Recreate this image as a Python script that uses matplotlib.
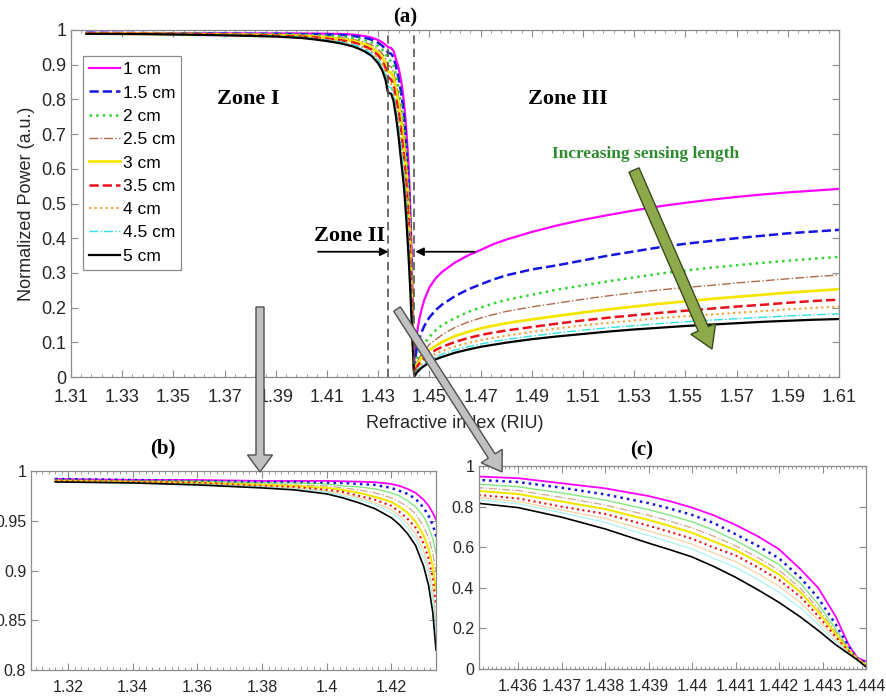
import numpy as np
import matplotlib
matplotlib.use('Agg')
import matplotlib.pyplot as plt
from matplotlib.patches import FancyArrow
from matplotlib.ticker import MultipleLocator, AutoMinorLocator, FuncFormatter

# refractive index grid (RIU): zone I, zone II (panel c), zone III
ri_zone1 = [1.316, 1.34, 1.36, 1.38, 1.39, 1.40, 1.405, 1.41, 1.415, 1.42, 1.4225, 1.425,
            1.4275, 1.43, 1.4315, 1.4328, 1.4338]
ri_zone2 = [1.4351, 1.436, 1.437, 1.438, 1.439, 1.4395, 1.44, 1.4405, 1.441, 1.4415, 1.442,
            1.4425, 1.4429, 1.4433, 1.4436, 1.4438, 1.444]
ri_zone3 = [1.4443, 1.4447, 1.445, 1.446, 1.447, 1.448, 1.45, 1.4525, 1.455, 1.46, 1.465, 1.47,
            1.475, 1.48, 1.49, 1.50, 1.51, 1.52, 1.53, 1.54, 1.55, 1.56, 1.57, 1.58, 1.59, 1.60, 1.61]
ri = ri_zone1 + ri_zone2 + ri_zone3

# normalized power for each sensing length (same order as ri)
p_1cm = [.992, .991, .991, .990, .990, .990, .9897, .9893, .9887, .987, .985, .982, .978, .971, .965, .958, .951,
         .948, .940, .915, .890, .852, .826, .795, .757, .710, .655, .590, .490, .400, .260, .120, .055, .038,
         .06, .10, .12, .165, .197, .222, .258, .285, .303, .330, .350, .366, .383, .396, .418, .437, .453,
         .467, .480, .492, .502, .511, .519, .526, .532, .537, .542]
p_15cm = [.992, .991, .990, .989, .989, .988, .988, .987, .986, .983, .980, .977, .972, .963, .955, .946, .935,
          .931, .921, .893, .860, .817, .790, .759, .719, .664, .608, .545, .448, .350, .221, .110, .053, .028,
          .035, .065, .08, .11, .13, .147, .172, .193, .209, .233, .252, .267, .281, .293, .310, .322, .336,
          .350, .362, .374, .384, .392, .400, .407, .414, .419, .424]
p_2cm = [.991, .990, .990, .988, .988, .987, .985, .984, .982, .978, .975, .970, .964, .954, .944, .932, .917,
         .910, .898, .867, .832, .785, .757, .725, .684, .633, .576, .514, .420, .320, .198, .100, .052, .024,
         .02, .04, .05, .07, .085, .097, .115, .135, .150, .170, .187, .200, .212, .222, .237, .252, .264,
         .276, .287, .298, .307, .315, .322, .329, .335, .341, .346]
p_25cm = [.991, .990, .989, .987, .986, .985, .983, .981, .978, .973, .969, .964, .957, .944, .933, .918, .899,
          .893, .879, .845, .808, .757, .728, .695, .654, .607, .550, .487, .396, .299, .184, .095, .051, .021,
          .015, .03, .038, .055, .067, .077, .094, .108, .122, .143, .158, .170, .180, .189, .202, .213, .224,
          .234, .243, .251, .258, .264, .271, .277, .283, .289, .294]
p_3cm = [.990, .989, .988, .986, .985, .983, .981, .978, .974, .969, .964, .958, .949, .935, .922, .904, .880,
         .877, .862, .825, .788, .734, .704, .671, .628, .586, .529, .466, .377, .282, .173, .092, .050, .019,
         .012, .025, .032, .045, .055, .064, .078, .090, .101, .118, .130, .140, .148, .155, .166, .176, .186,
         .195, .203, .211, .218, .225, .231, .237, .243, .248, .253]
p_35cm = [.990, .989, .988, .985, .984, .981, .979, .975, .971, .965, .959, .952, .943, .927, .912, .892, .865,
          .857, .840, .800, .764, .706, .675, .642, .598, .560, .502, .439, .354, .261, .159, .088, .049, .017,
          .01, .02, .027, .038, .047, .054, .066, .078, .087, .101, .112, .121, .128, .134, .144, .154, .163,
          .171, .178, .185, .191, .197, .203, .208, .214, .219, .223]
p_4cm = [.990, .989, .987, .985, .983, .980, .977, .973, .968, .961, .955, .947, .937, .919, .903, .881, .850,
         .844, .825, .783, .742, .680, .649, .615, .571, .529, .471, .408, .326, .240, .147, .084, .048, .015,
         .008, .016, .022, .032, .040, .046, .057, .067, .075, .088, .098, .106, .113, .119, .130, .140, .149,
         .156, .163, .170, .175, .180, .185, .190, .195, .199, .203]
p_45cm = [.989, .988, .987, .984, .982, .979, .975, .971, .966, .958, .952, .943, .932, .913, .896, .872, .838,
          .833, .814, .770, .722, .657, .625, .591, .545, .501, .442, .378, .300, .219, .135, .080, .047, .013,
          .006, .012, .017, .026, .033, .039, .049, .058, .066, .078, .087, .095, .102, .108, .118, .127, .135,
          .142, .148, .154, .159, .164, .168, .172, .176, .179, .182]
p_5cm = [.989, .988, .986, .983, .981, .977, .973, .968, .962, .953, .946, .937, .925, .904, .885, .858, .820,
         .816, .795, .748, .690, .620, .587, .552, .505, .452, .392, .328, .255, .190, .120, .075, .045, .010,
         .003, .008, .012, .02, .027, .032, .042, .051, .058, .070, .079, .087, .093, .099, .109, .117, .124,
         .131, .137, .142, .147, .151, .155, .159, .162, .165, .167]

labels = ['1 cm', '1.5 cm', '2 cm', '2.5 cm', '3 cm', '3.5 cm', '4 cm', '4.5 cm', '5 cm']
series = [p_1cm, p_15cm, p_2cm, p_25cm, p_3cm, p_35cm, p_4cm, p_45cm, p_5cm]

colors = ['#FF00FF', '#1515E0', '#2FD62F', '#B0684A', '#F5E600', '#E8101A', '#F0A030', '#30E0E0', '#000000']
styles_a = ['-', '--', ':', '-.', '-', '--', ':', '-.', '-']
widths_a = [1.6, 1.8, 1.8, 1.0, 2.0, 1.8, 1.5, 1.0, 1.6]
styles_bc = ['-', ':', '-', '-.', '-', ':', '-', '-', '-']
widths_bc = [1.3, 1.8, 1.0, 0.9, 1.5, 1.5, 0.8, 0.8, 1.2]
alpha_bc = [1, 1, 0.6, 0.6, 1, 1, 0.5, 0.45, 1]

plt.rcParams['font.family'] = ['Liberation Sans', 'DejaVu Sans']
serif = ['Liberation Serif', 'DejaVu Serif']
W, H = 886, 698
gray = '#8C8C8C'


def fig_rect(x0, y0, x1, y1):
    return [x0 / W, 1 - y1 / H, (x1 - x0) / W, (y1 - y0) / H]


def matlab_fmt(v, pos):
    return f'{v:g}'


def style_axes(ax, fs, xpad):
    for s in ax.spines.values():
        s.set_color(gray)
        s.set_linewidth(0.9)
    ax.tick_params(which='both', direction='in', top=True, right=True,
                   color=gray, labelsize=fs, labelcolor='#262626')
    ax.tick_params(which='major', length=5)
    ax.tick_params(which='minor', length=2.5)
    ax.tick_params(axis='x', pad=xpad)
    ax.xaxis.set_major_formatter(FuncFormatter(matlab_fmt))
    ax.yaxis.set_major_formatter(FuncFormatter(matlab_fmt))


fig = plt.figure(figsize=(W / 100, H / 100), dpi=100)

# ---- (a) main panel
ax = fig.add_axes(fig_rect(71, 30, 839, 377))
for y, lab, c, ls, lw in zip(series, labels, colors, styles_a, widths_a):
    ax.plot(ri, y, ls, color=c, lw=lw, label=lab)
ax.set_xlim(1.31, 1.61)
ax.set_ylim(0, 1)
ax.set_xticks(np.arange(1.31, 1.6101, 0.02))
ax.set_yticks(np.arange(0, 1.01, 0.1))
ax.xaxis.set_minor_locator(AutoMinorLocator(5))
style_axes(ax, 13, 9)
ax.set_xlabel('Refractive index (RIU)', fontsize=13, labelpad=6, color='#262626')
ax.set_ylabel('Normalized Power (a.u.)', fontsize=13, labelpad=4, color='#262626')

ax.axvline(1.434, color='#555555', ls='--', lw=1.2, dashes=(5, 3))
ax.axvline(1.444, color='#555555', ls='--', lw=1.2, dashes=(5, 3))

leg = ax.legend(loc='upper left', bbox_to_anchor=(0.0156, 0.925), borderaxespad=0,
                fontsize=12.5, handlelength=1.8, handletextpad=0.15, labelspacing=0.47,
                borderpad=0.35, fancybox=False, framealpha=1)
leg.get_frame().set_edgecolor(gray)
leg.get_frame().set_linewidth(0.9)

ax.text(1.3791, 0.80, 'Zone I', fontsize=16, fontweight='bold', family=serif,
        ha='center', va='center')
ax.text(1.5041, 0.80, 'Zone III', fontsize=16, fontweight='bold', family=serif,
        ha='center', va='center')
ax.text(1.419, 0.405, 'Zone II', fontsize=16, fontweight='bold', family=serif,
        ha='center', va='center')
ax.text(1.5346, 0.642, 'Increasing sensing length', fontsize=12.5, fontweight='bold',
        family=serif, color='#2E8B2E', ha='center', va='center')

arrow_kw = dict(arrowstyle='-|>', color='k', lw=1.3, mutation_scale=12, shrinkA=0, shrinkB=0)
ax.annotate('', xy=(1.434, 0.361), xytext=(1.4065, 0.361), arrowprops=arrow_kw)
ax.annotate('', xy=(1.4445, 0.361), xytext=(1.4678, 0.361), arrowprops=arrow_kw)

# ---- (b) zoom on zone I
axb = fig.add_axes(fig_rect(31, 471, 436, 670))
for y, c, ls, lw, a in zip(series, colors, styles_bc, widths_bc, alpha_bc):
    axb.plot(ri, y, ls, color=c, lw=lw, alpha=a)
axb.set_xlim(1.3085, 1.4338)
axb.set_ylim(0.8, 1)
axb.set_xticks(np.arange(1.32, 1.4201, 0.02))
axb.set_yticks([0.8, 0.85, 0.9, 0.95, 1])
axb.xaxis.set_minor_locator(MultipleLocator(0.002))
style_axes(axb, 11.5, 7)

# ---- (c) zoom on zone II
axc = fig.add_axes(fig_rect(479, 466, 866, 669))
for y, c, ls, lw, a in zip(series, colors, styles_bc, widths_bc, alpha_bc):
    axc.plot(ri, y, ls, color=c, lw=lw, alpha=a)
axc.set_xlim(1.4351, 1.444)
axc.set_ylim(0, 1)
axc.set_xticks(np.arange(1.436, 1.44401, 0.001))
axc.set_yticks(np.arange(0, 1.01, 0.2))
axc.xaxis.set_minor_locator(MultipleLocator(0.0001))
style_axes(axc, 11.5, 7)

# ---- panel titles
for txt, x, y in [('(a)', 405, 17), ('(b)', 163, 448), ('(c)', 642, 450)]:
    fig.text(x / W, 1 - y / H, txt, fontsize=15, fontweight='bold', family=serif,
             ha='center', va='center')


# ---- big arrows drawn over the whole figure (pixel positions)
def px_arrow(x0, y0, x1, y1, width, hw, hl, fc, ec):
    a = FancyArrow(x0 / 100, (H - y0) / 100, (x1 - x0) / 100, -(y1 - y0) / 100,
                   width=width, head_width=hw, head_length=hl, length_includes_head=True,
                   transform=fig.dpi_scale_trans, facecolor=fc, edgecolor=ec, lw=1, zorder=10)
    fig.add_artist(a)


px_arrow(260, 307, 260, 472, 0.08, 0.25, 0.17, '#C0C0C0', '#505050')
px_arrow(397, 309, 502, 472, 0.08, 0.25, 0.19, '#C0C0C0', '#505050')
px_arrow(634, 170, 712, 349, 0.11, 0.27, 0.22, '#8DAA4B', '#3B4A1E')

fig.savefig('out.png', dpi=100)
